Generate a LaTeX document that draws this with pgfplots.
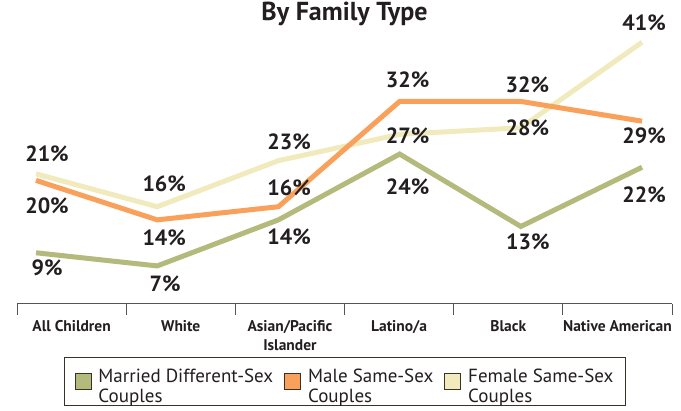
\documentclass[border=0pt]{standalone}
\usepackage{pgfplots}
\usepackage{pgfplotstable}
\pgfplotsset{compat=1.18}
\usepackage{fontspec}
\setmainfont{PT Sans}
\definecolor{cgreen}{HTML}{B3BA7B}
\definecolor{corange}{HTML}{F9A05A}
\definecolor{cyellow}{HTML}{F0EABC}
\definecolor{ctext}{HTML}{231F20}
\definecolor{caxis}{HTML}{555555}
\definecolor{legbord}{HTML}{3A3128}

% x = category index, y = percent, dx/dy = label offset (pt)
\pgfplotstableread{
x y dx dy lab
0 9 11 -15 9
1 7 8 -18 7
2 14 10.6 -17 14
3 24 8 -33 24
4 13 7 -15.5 13
5 22 2 -28 22
}\married
\pgfplotstableread{
x y dx dy lab
0 20 11 -25.6 20
1 14 7 -17.6 14
2 16 10.6 18.7 16
3 32 8 21.4 32
4 32 6.5 16.4 32
5 29 2 -14.8 29
}\male
\pgfplotstableread{
x y dx dy lab
0 21 11 19.8 21
1 16 7 23.4 16
2 23 10.6 19 23
3 27 8 -1.7 27
4 28 6.5 0 28
5 41 2 19 41
}\female

\pgfplotsset{
  lab/.style={draw=none, mark=none, forget plot,
    point meta=explicit symbolic,
    visualization depends on={\thisrow{dx} \as \ldx},
    visualization depends on={\thisrow{dy} \as \ldy},
    nodes near coords={\pgfplotspointmeta\%},
    every node near coord/.append style={anchor=center, xshift=\ldx pt, yshift=\ldy pt,
      font=\fontsize{22}{25}\selectfont\bfseries, text=ctext, inner sep=0pt}},
}

\begin{document}
\begin{tikzpicture}[x=1pt,y=1pt]
\path[use as bounding box] (0,0) rectangle (681,411);
\begin{axis}[
  at={(17pt,107pt)}, anchor=south west,
  scale only axis, width=655pt, height=268.36pt,
  xmin=-0.1568, xmax=5.2475, ymin=1.2158, ymax=42,
  clip=false,
  axis x line*=bottom, axis y line=none,
  x axis line style={caxis, line width=1pt},
  xtick={-0.1568,0.7440,1.6447,2.5454,3.4461,4.3468,5.2475},
  xticklabels={},
  tick align=outside, major tick length=11pt,
  xtick style={caxis, line width=1pt},
  extra x ticks={0.2936,1.1943,2.0950,2.9957,3.8964,4.7971},
  extra x tick labels={All Children,White,{Asian/Pacific\\Islander},Latino/a,Black,Native American},
  extra x tick style={major tick length=0pt},
  xticklabel style={font=\fontsize{15.5}{19}\selectfont\bfseries, text=ctext, align=center, anchor=north, yshift=-12.5pt},
  title={By Family Type},
  title style={font=\fontsize{26}{30}\selectfont\bfseries, text=ctext, at={(0.5,1)}, anchor=base, yshift=8.9pt},
  legend columns=3,
  legend cell align=left,
  legend style={at={(0.0718,-0.198)}, anchor=north west, draw=legbord, line width=1pt,
    font=\fontsize{19}{20}\selectfont, text=ctext, inner xsep=10pt, inner ysep=9pt,
    nodes={inner sep=2pt},
    /tikz/every odd column/.append style={column sep=5pt},
    /tikz/every even column/.append style={column sep=9pt}},
]
\addlegendimage{legend image code/.code={\draw[fill=cgreen,draw=legbord,line width=0.9pt] (0pt,-8pt) rectangle (16pt,8pt);}}
\addlegendentry{\begin{tabular}{@{}l@{}}Married Different-Sex\\Couples\end{tabular}}
\addlegendimage{legend image code/.code={\draw[fill=corange,draw=legbord,line width=0.9pt] (0pt,-8pt) rectangle (16pt,8pt);}}
\addlegendentry{\begin{tabular}{@{}l@{}}Male Same-Sex\\Couples\end{tabular}}
\addlegendimage{legend image code/.code={\draw[fill=cyellow,draw=legbord,line width=0.9pt] (0pt,-8pt) rectangle (16pt,8pt);}}
\addlegendentry{\begin{tabular}{@{}l@{}}Female Same-Sex\\Couples\end{tabular}}

\addplot[cyellow, line width=5pt, forget plot] table[x=x,y=y] {\female};
\addplot[cgreen, line width=5pt, forget plot] table[x=x,y=y] {\married};
\addplot[corange, line width=5pt, forget plot] table[x=x,y=y] {\male};

\addplot[lab] table[x=x,y=y,meta=lab] {\female};
\addplot[lab] table[x=x,y=y,meta=lab] {\married};
\addplot[lab] table[x=x,y=y,meta=lab] {\male};
\end{axis}
\end{tikzpicture}
\end{document}
